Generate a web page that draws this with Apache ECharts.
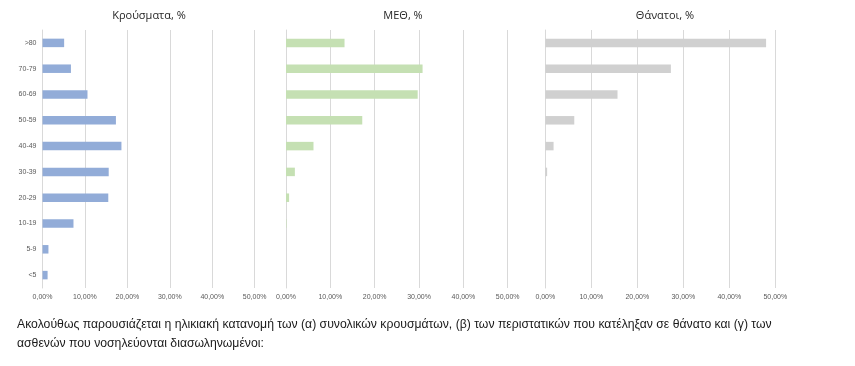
<!DOCTYPE html>
<html>
<head>
<meta charset="utf-8">
<script src="https://cdn.jsdelivr.net/npm/echarts@6/dist/echarts.min.js"></script>
<style>html,body{margin:0;padding:0;background:#fff;}#c{width:855px;height:366px;}</style>
</head>
<body>
<div id="c"></div>
<script>
const categories = ['<5', '5-9', '10-19', '20-29', '30-39', '40-49', '50-59', '60-69', '70-79', '>80'];
const casesPct = [1.2, 1.4, 7.3, 15.5, 15.6, 18.6, 17.3, 10.6, 6.7, 5.1];
const icuPct = [0, 0, 0.1, 0.7, 2.0, 6.2, 17.2, 29.7, 30.8, 13.2];
const deathsPct = [0, 0, 0, 0, 0.4, 1.8, 6.3, 15.7, 27.3, 48.0];
const titles = ['Κρούσματα, %', 'ΜΕΘ, %', 'Θάνατοι, %'];
const xTicks = [0, 10, 20, 30, 40, 50];
const caption1 = 'Ακολούθως παρουσιάζεται η ηλικιακή κατανομή των (α) συνολικών κρουσμάτων, (β) των περιστατικών που κατέληξαν σε θάνατο και (γ) των';
const caption2 = 'ασθενών που νοσηλεύονται διασωληνωμένοι:';

const chart = echarts.init(document.getElementById('c'));
const series = [casesPct, icuPct, deathsPct];
const colors = ['#92acd8', '#c5e0b3', '#d0d0d0'];
const grids = [
  {left: 42.5, top: 30, width: 212.2, height: 258},
  {left: 286, top: 30, width: 221.7, height: 258},
  {left: 545.3, top: 30, width: 230, height: 258}
];
const titleX = [144, 398, 660];
const fmt = v => v.toFixed(2).replace('.', ',') + '%';

const option = {
  animation: false,
  title: titles.map((t, i) => ({
    text: t, left: titleX[i], top: 5, textAlign: 'center',
    textStyle: {fontFamily: 'Open Sans', fontSize: 11, fontWeight: 'normal', color: '#262626'}
  })),
  grid: grids,
  xAxis: grids.map((g, i) => ({
    type: 'value', gridIndex: i, min: xTicks[0], max: xTicks[xTicks.length - 1], interval: 10,
    axisLine: {show: false}, axisTick: {show: false},
    splitLine: {show: true, lineStyle: {color: '#d9d9d9', width: 1}},
    axisLabel: {formatter: fmt, fontSize: 7, color: '#595959', margin: 6, fontFamily: 'Liberation Sans'}
  })),
  yAxis: grids.map((g, i) => ({
    type: 'category', gridIndex: i, data: categories,
    axisLine: {show: true, lineStyle: {color: '#d9d9d9'}},
    axisTick: {show: false},
    axisLabel: {show: i === 0, fontSize: 7, color: '#595959', margin: 6, fontFamily: 'Liberation Sans'}
  })),
  series: series.map((d, i) => ({
    type: 'bar', xAxisIndex: i, yAxisIndex: i, data: d, barWidth: 8.5,
    itemStyle: {color: colors[i]}, silent: true
  })),
  graphic: [
    {type: 'text', x: 17, y: 318, scaleX: 0.94, style: {text: caption1, font: '13px "Liberation Sans"', fill: '#1a1a1a'}},
    {type: 'text', x: 17, y: 337, scaleX: 0.94, style: {text: caption2, font: '13px "Liberation Sans"', fill: '#1a1a1a'}}
  ]
};
chart.setOption(option);
</script>
</body>
</html>
